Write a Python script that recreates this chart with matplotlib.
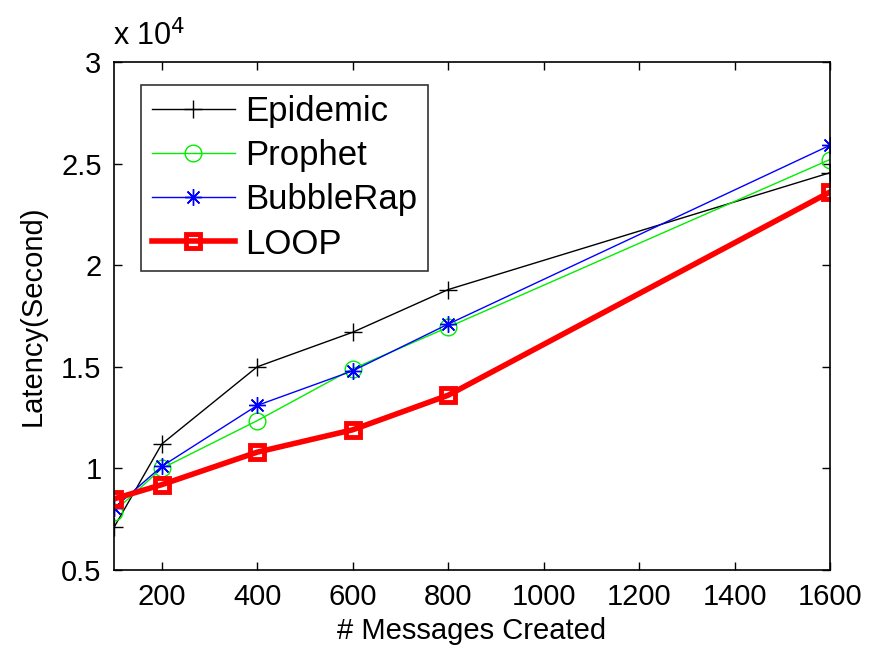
import matplotlib
matplotlib.use("Agg")
import matplotlib.pyplot as plt
from matplotlib.ticker import FuncFormatter

plt.rcParams['font.family'] = ['Liberation Sans', 'DejaVu Sans']

x = [100, 200, 400, 600, 800, 1600]
epidemic = [7100, 11200, 15000, 16700, 18800, 24550]
prophet = [7870, 10000, 12350, 14900, 16950, 25200]
bubblerap = [8050, 10100, 13100, 14800, 17100, 25900]
loop = [8500, 9200, 10800, 11900, 13600, 23600]
xticks = [200, 400, 600, 800, 1000, 1200, 1400, 1600]
yticks = [5000, 10000, 15000, 20000, 25000, 30000]

fig = plt.figure(figsize=(8.73, 6.58), dpi=100)
ax = fig.add_axes([0.1306, 0.1337, 0.9507 - 0.1306, 0.9058 - 0.1337])

ax.plot(x, epidemic, color='black', lw=1, marker='+', ms=13, mew=1, label='Epidemic')
ax.plot(x, prophet, color='#00ee00', lw=1, marker='o', ms=12, mew=1, mfc='none', label='Prophet')
ax.plot(x, bubblerap, color='blue', lw=1, marker=(8, 2, 0), ms=12, mew=1, label='BubbleRap')
ax.plot(x, loop, color='red', lw=4, marker='s', ms=10.5, mew=3.5, mfc='none', label='LOOP')

ax.set_xlim(100, 1600)
ax.set_ylim(5000, 30000)
ax.set_xticks(xticks)
ax.set_yticks(yticks)
ax.yaxis.set_major_formatter(FuncFormatter(lambda v, p: '%g' % (v / 1e4)))
ax.tick_params(direction='in', top=True, right=True, labelsize=21, length=6, width=1, pad=9)
for s in ax.spines.values():
    s.set_linewidth(1.2)

ax.set_xlabel('# Messages Created', fontsize=21, labelpad=5)
ax.set_ylabel('Latency(Second)', fontsize=21, labelpad=10)
ax.text(-0.002, 1.018, 'x 10$^{4}$', transform=ax.transAxes, fontsize=22, ha='left', va='bottom')

leg = ax.legend(loc='upper left', fontsize=25, handlelength=2.4, frameon=True, fancybox=False,
                edgecolor='black', bbox_to_anchor=(0.038, 0.955), borderaxespad=0,
                labelspacing=0.32, borderpad=0.3, handletextpad=0.3, markerscale=1.0)
leg.get_frame().set_linewidth(1.2)

fig.savefig('out.png', dpi=100)
